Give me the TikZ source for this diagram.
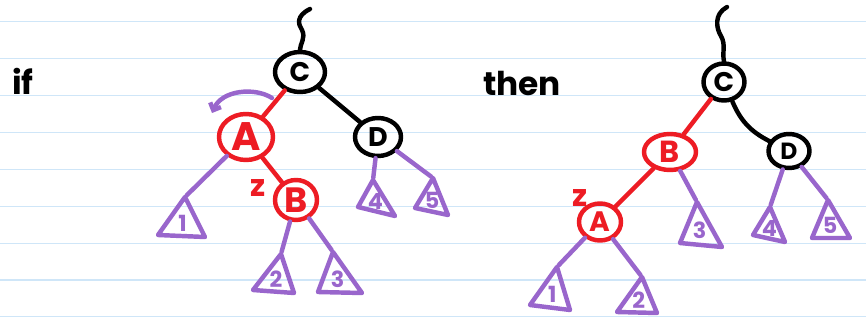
\documentclass[tikz,border=0pt]{standalone}
\usepackage{fontspec}
\setmainfont{Poppins}
\usetikzlibrary{arrows.meta, shapes.geometric}
\definecolor{InkRed}{HTML}{ED1C24}
\definecolor{InkPurple}{HTML}{9966CC}
\definecolor{RuleBlue}{HTML}{CFE6F8}

% subtree triangle: name, apex, bottom left, bottom right, label
\newcommand\subtree[5]{%
  \coordinate (#1) at #2;
  \coordinate (#1-l) at #3;
  \coordinate (#1-r) at #4;
  \draw[tri] (#1) -- (#1-l) -- (#1-r) -- cycle;
  \node[trilabel] (#1-txt) at (barycentric cs:#1=1,#1-l=1,#1-r=1) {#5};
}

\begin{document}
\begin{tikzpicture}[
    x=0.3mm, y=-0.3mm, line cap=round, line join=round,
    rbnode/.style={
      ellipse, line width=3.8pt, inner sep=0pt,
      font=\bfseries\fontsize{23}{23}\selectfont
    },
    black node/.style={rbnode, draw=black, text=black},
    red node/.style={rbnode, draw=InkRed, text=InkRed},
    black edge/.style={draw=black, line width=3.8pt},
    red edge/.style={draw=InkRed, line width=3.8pt},
    link/.style={draw=InkPurple, line width=3.8pt, shorten >=2pt},
    tri/.style={draw=InkPurple, line width=3.8pt},
    trilabel/.style={text=InkPurple, inner sep=0pt,
      font=\bfseries\fontsize{19}{19}\selectfont},
    zlabel/.style={text=InkRed, inner sep=0pt,
      font=\bfseries\fontsize{26}{26}\selectfont},
    word/.style={text=black, inner sep=0pt, anchor=base west,
      font=\bfseries\fontsize{28}{28}\selectfont},
    rule/.style={draw=RuleBlue, line width=0.9pt}
  ]
  \fill[white] (0,0) rectangle (866,320);
  \useasboundingbox (0,0) rectangle (866,320);
  \foreach \i in {0,...,8}
    \draw[rule] (0,21.7+36.9*\i) -- (866,21.7+36.9*\i);

  % before
  \node[word] (ifw) at (12,95) {if};
  \node[black node, minimum width=15mm, minimum height=12mm] (C1) at (300,72) {C};
  \node[red node, minimum width=16.2mm, minimum height=13.8mm,
        font=\bfseries\fontsize{34}{34}\selectfont] (A1) at (246,137) {A};
  \node[black node, minimum width=13.8mm, minimum height=11.4mm] (D1) at (378,137) {D};
  \node[red node, minimum width=12.6mm, minimum height=12mm,
        font=\bfseries\fontsize{30}{30}\selectfont] (B1) at (296,200) {B};
  \node[zlabel] (z1) at (258,188) {z};

  \coordinate (top1) at (310,9);
  \draw[black edge] (top1) .. controls (296,16) and (298,24) .. (302,30)
    .. controls (306,38) and (300,44) .. (C1.north);
  \draw[red edge] (C1) -- (A1);
  \draw[black edge] (C1) -- (D1);
  \draw[red edge] (A1) -- (B1);

  \coordinate (rotS) at (272,98);
  \coordinate (rotE) at (212,113);
  \draw[tri, -{Straight Barb[length=5pt, width=10pt]}]
    (rotS) .. controls (255,87) and (222,90) .. (rotE);

  \subtree{t1a}{(185,197)}{(158,235)}{(205,237)}{1}
  \subtree{t2a}{(281,254)}{(253,290)}{(294,293)}{2}
  \subtree{t3a}{(333,252)}{(318,292)}{(362,293)}{3}
  \subtree{t4a}{(373,180)}{(358,207)}{(395,216)}{4}
  \subtree{t5a}{(433,178)}{(415,208)}{(448,215)}{5}
  \draw[link] (A1) -- (t1a);
  \draw[link] (B1) -- (t2a);
  \draw[link] (B1) -- (t3a);
  \draw[link] (D1) -- (t4a);
  \draw[link] (D1) -- (t5a);

  % after
  \node[word] (thenw) at (483,96) {then};
  \node[black node, minimum width=12.3mm, minimum height=11.1mm] (C2) at (724,82) {C};
  \node[red node, minimum width=15.6mm, minimum height=10.8mm,
        font=\bfseries\fontsize{26}{26}\selectfont] (B2) at (670,152) {B};
  \node[black node, minimum width=12.3mm, minimum height=10.2mm,
        font=\bfseries\fontsize{20}{20}\selectfont] (D2) at (789,151) {D};
  \node[red node, minimum width=12.6mm, minimum height=11.1mm,
        font=\bfseries\fontsize{24}{24}\selectfont] (A2) at (600,222) {A};
  \node[zlabel] (z2) at (580,198) {z};

  \coordinate (top2) at (727,7);
  \draw[black edge] (top2) .. controls (714,14) and (716,28) .. (721,36)
    .. controls (726,45) and (722,52) .. (C2.north);
  \draw[red edge] (C2) -- (B2);
  \draw[black edge] (C2) to[bend right=20] (D2);
  \draw[red edge] (B2) -- (A2);

  \subtree{t1b}{(557,267)}{(530,305)}{(570,310)}{1}
  \subtree{t2b}{(642,277)}{(617,312)}{(657,313)}{2}
  \subtree{t3b}{(697,202)}{(680,243)}{(722,247)}{3}
  \subtree{t4b}{(770,207)}{(753,235)}{(785,242)}{4}
  \subtree{t5b}{(828,200)}{(812,238)}{(850,238)}{5}
  \draw[link] (A2) -- (t1b);
  \draw[link] (A2) -- (t2b);
  \draw[link] (B2) -- (t3b);
  \draw[link] (D2) -- (t4b);
  \draw[link] (D2) -- (t5b);
\end{tikzpicture}
\end{document}
